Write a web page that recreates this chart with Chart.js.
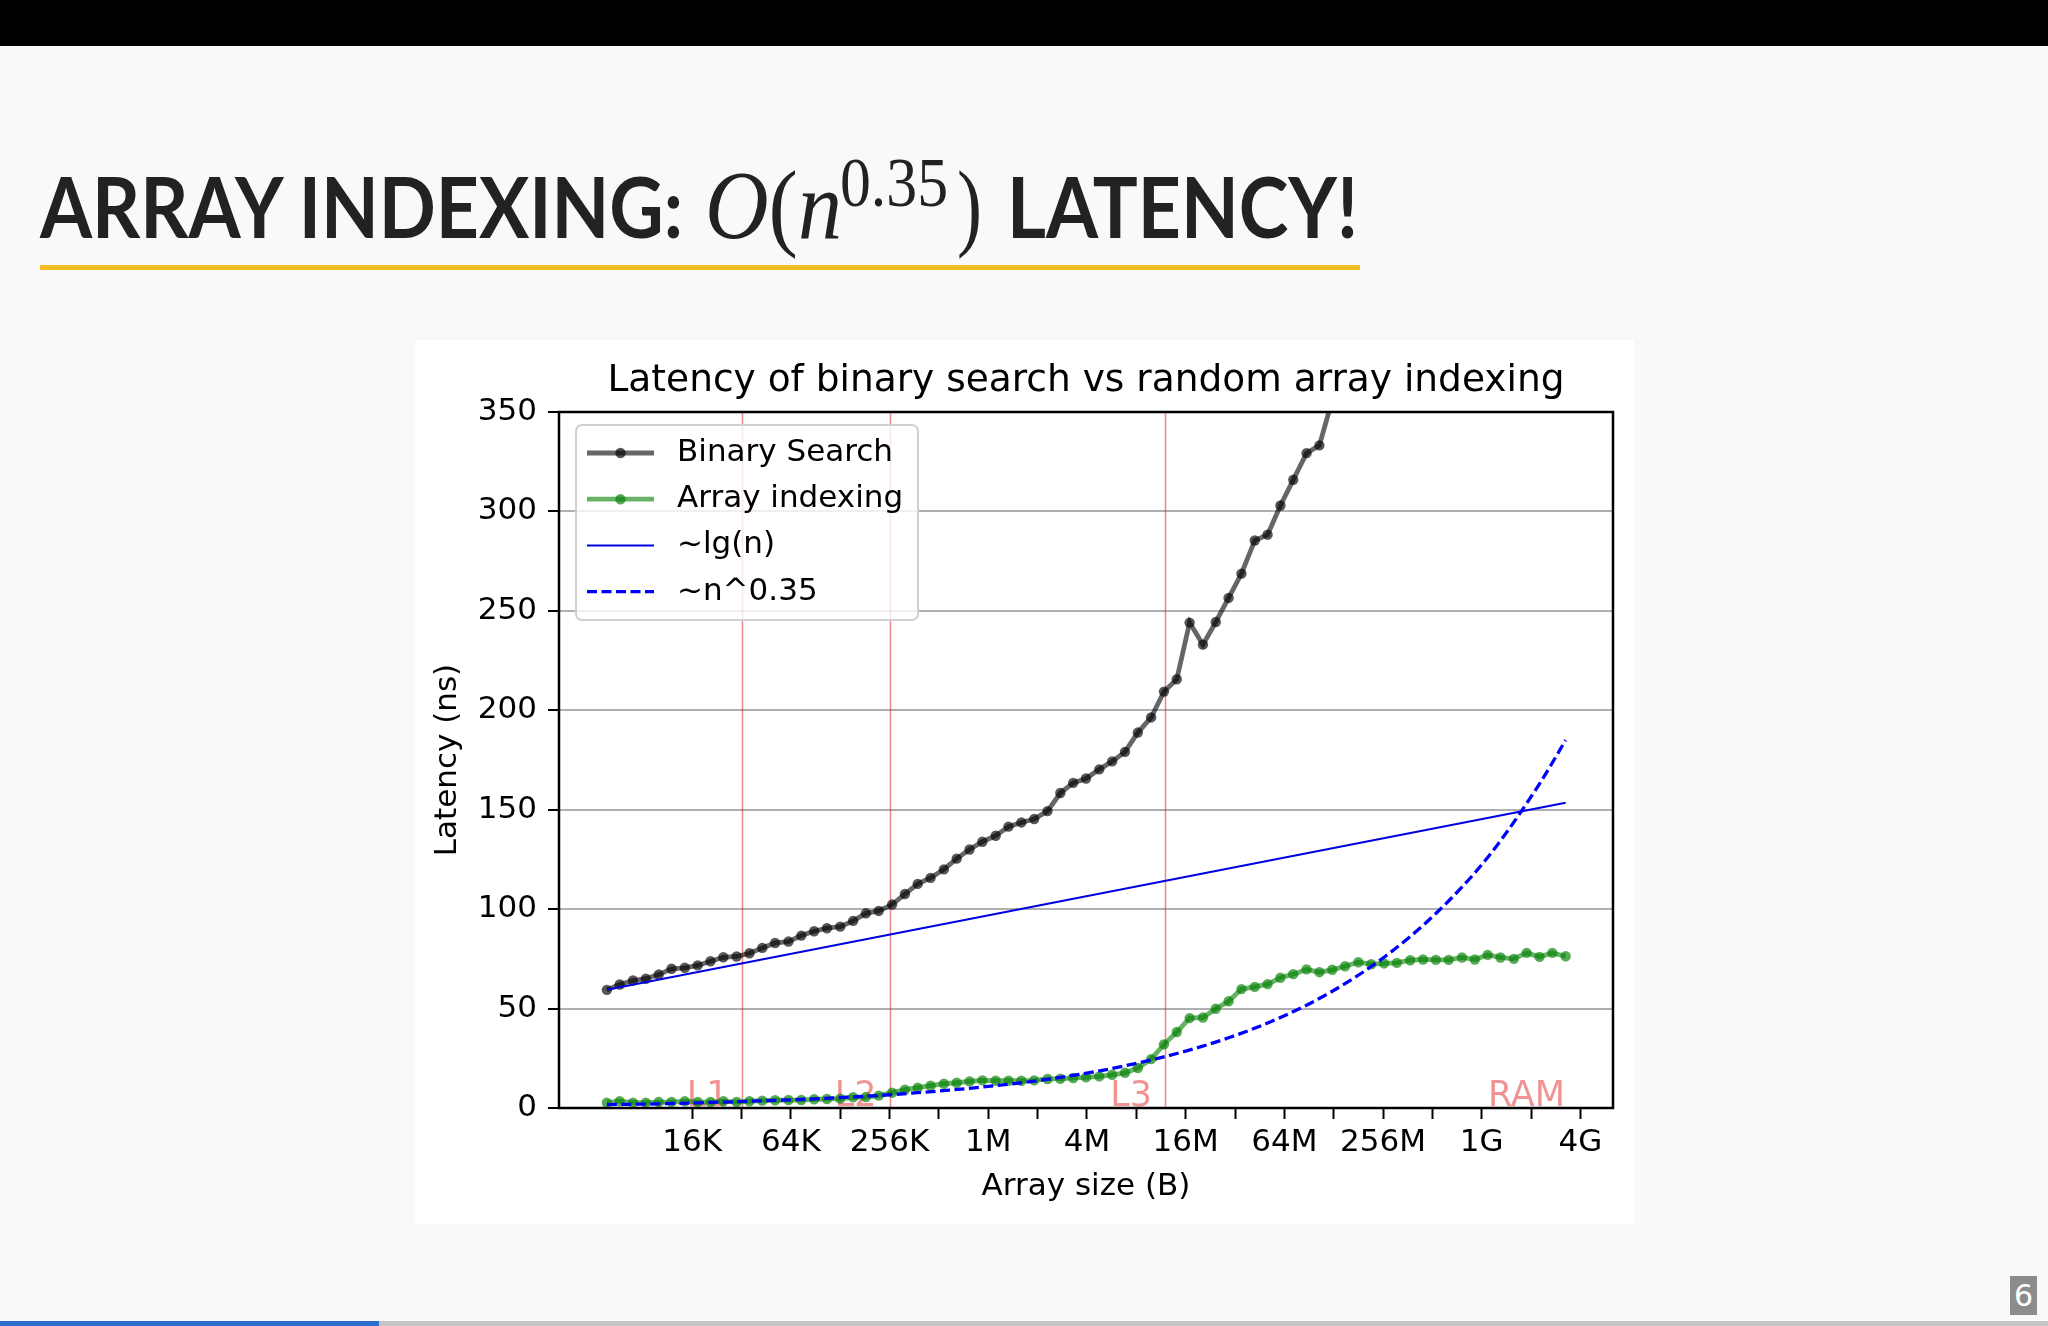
<!DOCTYPE html>
<html>
<head>
<meta charset="utf-8">
<script src="https://cdn.jsdelivr.net/npm/chart.js@4"></script>
<style>
  html, body { margin: 0; padding: 0; }
  body { width: 2048px; height: 1326px; background: #f9f9f9; position: relative; overflow: hidden; }
  #topbar { position: absolute; left: 0; top: 0; width: 2048px; height: 46px; background: #000; }
  .hw { position: absolute; white-space: nowrap; color: #222; transform-origin: 0 0; }
  .bl { display: inline-block; width: 0; height: 0; vertical-align: baseline; }
  #rule { position: absolute; left: 40px; top: 265px; width: 1320px; height: 5px; background: #f4bd1f; }
  #figure { position: absolute; left: 415px; top: 340px; width: 1219px; height: 884px; background: #fff; }
  #pagenum { position: absolute; left: 2010px; top: 1276px; width: 27px; height: 39px; background: #8c8c8c;
             color: #fff; font: 30px 'DejaVu Sans'; text-align: center; line-height: 39px; }
  #progress { position: absolute; left: 0; top: 1321px; width: 2048px; height: 5px; background: #c5c5c5; }
  #progress div { width: 379px; height: 5px; background: #2b6fd0; }
</style>
</head>
<body>
<div id="topbar"></div>
<span class="hw" data-left="40" data-base="238" data-width="643" style="font: 700 85px 'Lato'"><i class="bl"></i>ARRAY INDEXING:</span>
<span class="hw" data-left="705" data-base="238" data-width="137" style="font: 98px 'Liberation Serif'"><i class="bl"></i><em>O</em>(<em>n</em></span>
<span class="hw" data-left="840" data-base="206" data-width="108" style="font: 70px 'Liberation Serif'"><i class="bl"></i>0.35</span>
<span class="hw" data-left="957" data-base="238" data-width="25" style="font: 98px 'Liberation Serif'"><i class="bl"></i>)</span>
<span class="hw" data-left="1007" data-base="238" data-width="351" style="font: 700 85px 'Lato'"><i class="bl"></i>LATENCY!</span>
<div id="rule"></div>
<div id="figure"><canvas id="chart" width="1219" height="884" style="width:1219px;height:884px"></canvas></div>
<div id="pagenum">6</div>
<div id="progress"><div></div></div>

<script>
// array sizes, as log2(bytes)
const SIZE_LOG2 = [
  12.27, 12.53, 12.80, 13.06, 13.32, 13.58, 13.85, 14.11, 14.37, 14.63,
  14.90, 15.16, 15.42, 15.68, 15.95, 16.21, 16.47, 16.73, 17.00, 17.26,
  17.52, 17.78, 18.05, 18.31, 18.57, 18.83, 19.10, 19.36, 19.62, 19.88,
  20.15, 20.41, 20.67, 20.93, 21.20, 21.46, 21.72, 21.98, 22.25, 22.51,
  22.77, 23.03, 23.30, 23.56, 23.82, 24.08, 24.35, 24.61, 24.87, 25.13,
  25.40, 25.66, 25.92, 26.18, 26.45, 26.71, 26.97, 27.23, 27.50, 27.76,
  28.02, 28.28, 28.55, 28.81, 29.07, 29.33, 29.60, 29.86, 30.12, 30.38,
  30.65, 30.91, 31.17, 31.43, 31.70
];

// latency in ns (binary search leaves the plot after ~256M)
const BINARY_SEARCH = [
  59.4, 62.1, 64.1, 65.0, 67.1, 70.0, 70.5, 71.7, 73.8, 75.8,
  76.2, 77.8, 80.5, 83.0, 83.7, 86.7, 88.9, 90.4, 91.2, 94.1,
  97.9, 99.1, 102.3, 107.6, 112.7, 115.7, 120.0, 125.4, 130.0, 133.9,
  136.9, 141.5, 143.6, 145.3, 149.3, 158.4, 163.5, 165.7, 170.3, 174.3,
  179.1, 188.8, 196.4, 209.4, 215.6, 244.1, 233.0, 244.4, 256.5, 268.7,
  285.4, 288.3, 303.0, 315.9, 329.3, 333.2, 356.0
];

const ARRAY_INDEXING = [
  2.7, 3.4, 2.7, 2.7, 3.0, 3.0, 3.4, 3.0, 3.0, 3.4,
  3.0, 3.4, 3.7, 3.9, 4.0, 4.0, 4.4, 4.5, 4.7, 5.4,
  5.5, 6.2, 7.7, 9.2, 10.2, 11.2, 12.2, 12.7, 13.4, 13.9,
  13.7, 13.7, 13.7, 13.9, 14.6, 14.7, 15.1, 15.4, 15.9, 16.7,
  17.7, 20.1, 24.6, 32.0, 38.2, 45.2, 45.5, 49.9, 53.7, 59.8,
  60.9, 62.3, 65.5, 67.3, 69.7, 68.3, 69.5, 71.3, 73.3, 72.3,
  72.7, 73.0, 74.3, 74.7, 74.5, 74.5, 75.7, 74.7, 77.0, 75.7,
  75.0, 78.0, 76.0, 78.0, 76.3
];

// ~lg(n) fit: values at the first and last size
const LG_FIT = [59.5, 153.5];

// ~n^0.35 fit, read at a subset of the sizes
const POW_IDX = [0, 4, 8, 12, 16, 20, 24, 28, 32, 36, 40, 44, 48, 52, 56, 60, 64, 68, 72, 74];
const POW_FIT = [1.7, 2.1, 2.8, 3.6, 4.6, 5.9, 7.7, 9.9, 12.7, 16.4,
                 21.2, 27.4, 35.3, 45.5, 58.7, 75.8, 97.8, 126.0, 163.0, 185.0];

const X_TICKS = [14, 15, 16, 17, 18, 19, 20, 21, 22, 23, 24, 25, 26, 27, 28, 29, 30, 31, 32];
const X_TICK_LABELS = { 14: '16K', 16: '64K', 18: '256K', 20: '1M', 22: '4M',
                        24: '16M', 26: '64M', 28: '256M', 30: '1G', 32: '4G' };

const CACHE_NAMES = ['L1', 'L2', 'L3', 'RAM'];
const CACHE_LOG2 = [15, 18, 23.58, 31.95];

const FONT = 'DejaVu Sans';

function placeHeading() {
  document.querySelectorAll('.hw').forEach(el => {
    el.style.left = el.dataset.left + 'px';
    el.style.top = '0px';
    const r = el.getBoundingClientRect();
    const b = el.querySelector('.bl').getBoundingClientRect().top;
    el.style.top = (Number(el.dataset.base) - b) + 'px';
    el.style.transform = 'scaleX(' + (Number(el.dataset.width) / r.width) + ')';
  });
}

const decorations = {
  id: 'decorations',
  beforeDatasetsDraw(chart) {
    const { ctx, chartArea: ca, scales: { x, y } } = chart;
    ctx.save();
    ctx.strokeStyle = 'rgba(210,40,40,0.55)';
    ctx.lineWidth = 1.5;
    CACHE_LOG2.slice(0, 3).forEach(v => {
      const px = Math.round(x.getPixelForValue(v)) + 0.5;
      ctx.beginPath();
      ctx.moveTo(px, ca.top);
      ctx.lineTo(px, ca.bottom);
      ctx.stroke();
    });
    ctx.fillStyle = 'rgba(240,128,128,0.85)';
    ctx.font = '35px ' + FONT;
    ctx.textAlign = 'right';
    ctx.textBaseline = 'alphabetic';
    CACHE_NAMES.forEach((name, i) => {
      ctx.fillText(name, x.getPixelForValue(CACHE_LOG2[i]) - 13, y.getPixelForValue(0) - 2);
    });
    ctx.restore();
  },
  afterDatasetsDraw(chart) {
    const { ctx, chartArea: ca } = chart;
    ctx.save();
    // frame
    ctx.strokeStyle = '#000';
    ctx.lineWidth = 2.5;
    ctx.strokeRect(ca.left, ca.top, ca.right - ca.left, ca.bottom - ca.top);

    // legend
    const lx = ca.left + 17, ly = 85, lw = 342, lh = 195;
    ctx.beginPath();
    ctx.roundRect(lx, ly, lw, lh, 6);
    ctx.fillStyle = 'rgba(255,255,255,0.8)';
    ctx.fill();
    ctx.strokeStyle = '#d0d0d0';
    ctx.lineWidth = 2;
    ctx.stroke();
    chart.data.datasets.forEach((ds, i) => {
      const ry = ly + 28 + i * 46.2;
      ctx.beginPath();
      ctx.setLineDash(ds.borderDash || []);
      ctx.strokeStyle = ds.borderColor;
      ctx.lineWidth = ds.borderWidth;
      ctx.moveTo(lx + 11, ry);
      ctx.lineTo(lx + 78, ry);
      ctx.stroke();
      ctx.setLineDash([]);
      if (ds.pointRadius > 0) {
        ctx.beginPath();
        ctx.arc(lx + 44.5, ry, ds.pointRadius, 0, Math.PI * 2);
        ctx.fillStyle = ds.pointBackgroundColor;
        ctx.fill();
      }
      ctx.fillStyle = '#000';
      ctx.font = '31px ' + FONT;
      ctx.textAlign = 'left';
      ctx.textBaseline = 'middle';
      ctx.fillText(ds.label, lx + 101, ry);
    });

    // title
    ctx.fillStyle = '#000';
    ctx.font = '37.5px ' + FONT;
    ctx.textAlign = 'center';
    ctx.textBaseline = 'alphabetic';
    ctx.fillText('Latency of binary search vs random array indexing', (ca.left + ca.right) / 2, 51);
    ctx.restore();
  }
};

const toPoints = (values, xs) => values.map((v, i) => ({ x: xs[i], y: v }));

new Chart(document.getElementById('chart').getContext('2d'), {
  type: 'line',
  data: {
    datasets: [
      {
        label: 'Binary Search',
        data: toPoints(BINARY_SEARCH, SIZE_LOG2),
        borderColor: 'rgba(0,0,0,0.6)',
        borderWidth: 4.8,
        pointRadius: 5.2,
        pointBackgroundColor: 'rgba(0,0,0,0.66)',
        pointBorderWidth: 0,
        order: 3,
      },
      {
        label: 'Array indexing',
        data: toPoints(ARRAY_INDEXING, SIZE_LOG2),
        borderColor: 'rgba(0,128,0,0.6)',
        borderWidth: 4.8,
        pointRadius: 5.2,
        pointBackgroundColor: 'rgba(0,128,0,0.66)',
        pointBorderWidth: 0,
        order: 2,
      },
      {
        label: '~lg(n)',
        data: toPoints(LG_FIT, [SIZE_LOG2[0], SIZE_LOG2[SIZE_LOG2.length - 1]]),
        borderColor: '#0000e0',
        borderWidth: 2,
        pointRadius: 0,
        order: 1,
      },
      {
        label: '~n^0.35',
        data: toPoints(POW_FIT, POW_IDX.map(i => SIZE_LOG2[i])),
        borderColor: '#0000ff',
        borderWidth: 3.3,
        borderDash: [10, 4.5],
        pointRadius: 0,
        cubicInterpolationMode: 'monotone',
        order: 0,
      },
    ],
  },
  options: {
    responsive: false,
    animation: false,
    devicePixelRatio: 1,
    layout: { padding: { top: 72, right: 21, left: 0, bottom: 0 } },
    plugins: {
      legend: { display: false },
      title: { display: false },
      tooltip: { enabled: false },
    },
    scales: {
      x: {
        type: 'linear',
        min: 11.30,
        max: 32.66,
        afterBuildTicks: s => { s.ticks = X_TICKS.map(v => ({ value: v })); },
        afterFit: s => { s.height = 116; },
        ticks: {
          autoSkip: false,
          maxRotation: 0,
          padding: 5,
          color: '#000',
          font: { family: FONT, size: 31 },
          callback: v => X_TICK_LABELS[v] || '',
        },
        grid: { drawOnChartArea: false, drawTicks: true, tickLength: 11, tickColor: '#000', tickWidth: 2 },
        border: { display: false },
        title: {
          display: true,
          text: 'Array size (B)',
          color: '#000',
          font: { family: FONT, size: 31 },
          padding: { top: 0, bottom: 18 },
        },
      },
      y: {
        min: 0,
        max: 350,
        afterFit: s => { s.width = 144; },
        ticks: { stepSize: 50, padding: 11, color: '#000', font: { family: FONT, size: 31 } },
        grid: { color: '#b0b0b0', lineWidth: 2, tickColor: '#000', tickLength: 11, tickWidth: 2 },
        border: { display: false },
        title: {
          display: true,
          text: 'Latency (ns)',
          color: '#000',
          font: { family: FONT, size: 31 },
          padding: { top: 14, bottom: 0 },
        },
      },
    },
  },
  plugins: [decorations],
});

document.fonts.ready.then(placeHeading);
</script>
</body>
</html>
